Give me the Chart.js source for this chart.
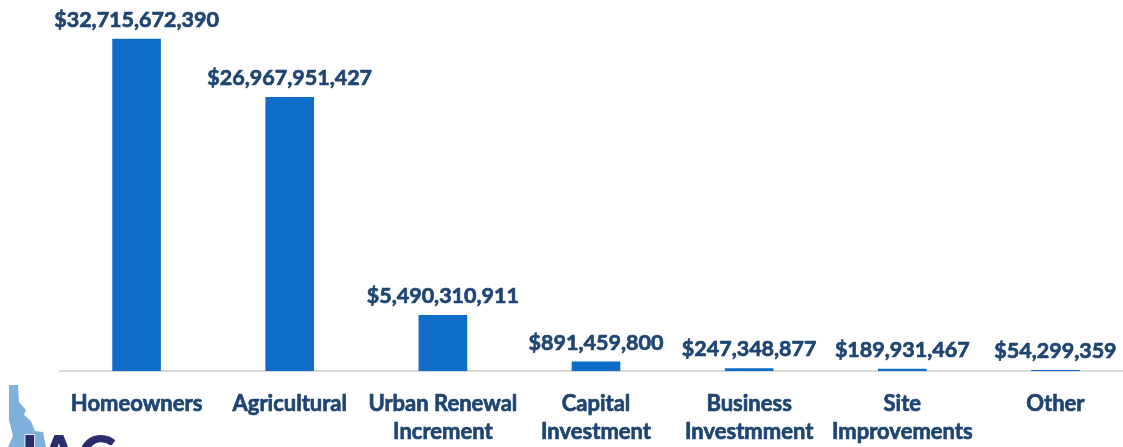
<!DOCTYPE html>
<html>
<head>
<meta charset="utf-8">
<script src="https://cdn.jsdelivr.net/npm/chart.js@4.4.1/dist/chart.umd.min.js"></script>
<style>
  html, body { margin: 0; padding: 0; background: #ffffff; overflow: hidden; }
  #wrap { position: relative; width: 1132px; height: 447px; }
</style>
</head>
<body>
<div id="wrap"><canvas id="c" width="1132" height="447"></canvas></div>
<script>
// Property value categories and their totals (USD)
const categories = [
  ["Homeowners"],
  ["Agricultural"],
  ["Urban Renewal", "Increment"],
  ["Capital", "Investment"],
  ["Business", "Investmment"],
  ["Site", "Improvements"],
  ["Other"]
];
const values = [32715672390, 26967951427, 5490310911, 891459800, 247348877, 189931467, 54299359];
const valueLabels = ["$32,715,672,390", "$26,967,951,427", "$5,490,310,911", "$891,459,800", "$247,348,877", "$189,931,467", "$54,299,359"];

const BAR = '#0F6DC7';
const TEXT = '#1F4573';
const FONT = 'Lato, "Open Sans", sans-serif';

// Dollar labels above each bar
const valueLabelPlugin = {
  id: 'valueLabels',
  afterDatasetsDraw(chart) {
    const ctx = chart.ctx;
    const meta = chart.getDatasetMeta(0);
    ctx.save();
    ctx.font = 'bold 21.5px ' + FONT;
    ctx.fillStyle = TEXT;
    ctx.strokeStyle = TEXT;
    ctx.lineWidth = 0.7;
    ctx.textAlign = 'center';
    ctx.textBaseline = 'middle';
    meta.data.forEach((bar, i) => {
      ctx.fillText(valueLabels[i], bar.x, bar.y - 19);
      ctx.strokeText(valueLabels[i], bar.x, bar.y - 19);
    });
    ctx.restore();
  }
};

// Category names under the axis, two lines where needed
const categoryLabelPlugin = {
  id: 'categoryLabels',
  afterDraw(chart) {
    const ctx = chart.ctx;
    const xs = chart.scales.x;
    const base = chart.chartArea.bottom;
    ctx.save();
    ctx.font = 'bold 22px ' + FONT;
    ctx.fillStyle = TEXT;
    ctx.strokeStyle = TEXT;
    ctx.lineWidth = 0.7;
    ctx.textAlign = 'center';
    ctx.textBaseline = 'middle';
    categories.forEach((lines, i) => {
      const x = xs.getPixelForValue(i);
      lines.forEach((t, j) => {
        const y = base + 33 + j * 28;
        ctx.fillText(t, x, y);
        ctx.strokeText(t, x, y);
      });
    });
    ctx.restore();
  }
};

// Organisation mark in the lower-left corner
const logoPlugin = {
  id: 'logo',
  afterDraw(chart) {
    const ctx = chart.ctx;
    ctx.save();
    ctx.fillStyle = '#80B1DD';
    ctx.beginPath();
    ctx.moveTo(9, 385); ctx.lineTo(18, 385); ctx.lineTo(19, 402);
    ctx.lineTo(26, 410); ctx.lineTo(24, 415); ctx.lineTo(31, 421);
    ctx.lineTo(35, 431); ctx.lineTo(43, 432); ctx.lineTo(46, 447);
    ctx.lineTo(8, 447); ctx.lineTo(13, 436); ctx.lineTo(9, 420);
    ctx.closePath();
    ctx.fill();
    ctx.font = '900 58px ' + FONT;
    ctx.fillStyle = '#2B2C6E';
    ctx.strokeStyle = '#ffffff';
    ctx.lineWidth = 1.5;
    ctx.textBaseline = 'alphabetic';
    ctx.strokeText('IAC', 21, 477);
    ctx.fillText('IAC', 21, 477);
    ctx.restore();
  }
};

new Chart(document.getElementById('c'), {
  type: 'bar',
  data: {
    labels: categories.map(l => l.join(' ')),
    datasets: [{
      data: values,
      backgroundColor: BAR,
      borderWidth: 0,
      barThickness: 48
    }]
  },
  options: {
    responsive: false,
    animation: false,
    layout: { padding: { left: 60, right: 0, top: 0, bottom: 0 } },
    plugins: { legend: { display: false }, tooltip: { enabled: false } },
    scales: {
      y: {
        display: false,
        min: 0,
        max: 36560000000
      },
      x: {
        grid: { display: false, drawTicks: false },
        border: { display: true, color: '#D9D9D9', width: 2 },
        ticks: { display: false },
        afterFit(scale) { scale.height = 76; }
      }
    }
  },
  plugins: [valueLabelPlugin, categoryLabelPlugin, logoPlugin]
});
</script>
</body>
</html>
